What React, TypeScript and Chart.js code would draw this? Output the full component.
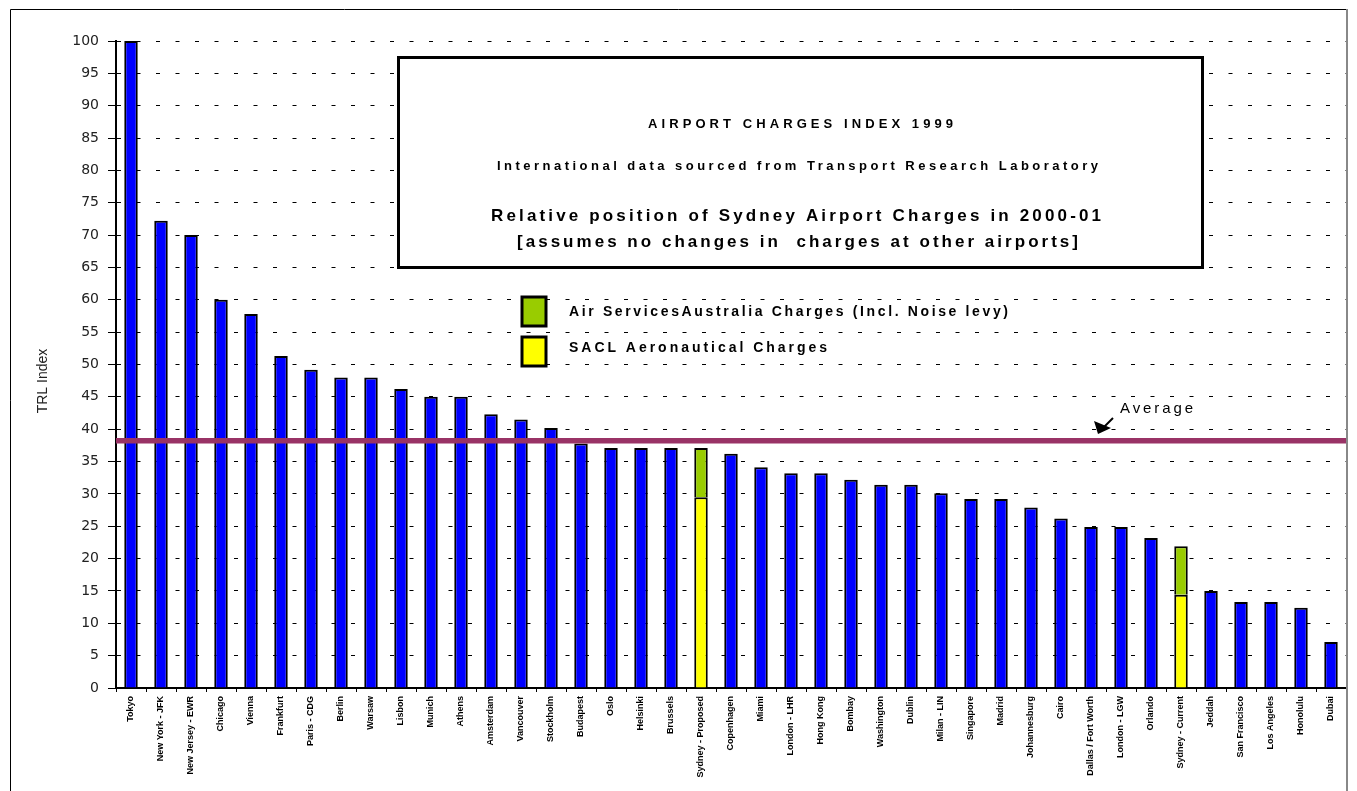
import { useEffect, useRef } from "react";
import { Chart, registerables } from "chart.js";

Chart.register(...registerables);

const cities = [
  "Tokyo", "New York - JFK", "New Jersey - EWR", "Chicago", "Vienna", "Frankfurt",
  "Paris - CDG", "Berlin", "Warsaw", "Lisbon", "Munich", "Athens", "Amsterdam",
  "Vancouver", "Stockholm", "Budapest", "Oslo", "Helsinki", "Brussels",
  "Sydney - Proposed", "Copenhagen", "Miami", "London - LHR", "Hong Kong", "Bombay",
  "Washington", "Dublin", "Milan - LIN", "Singapore", "Madrid", "Johannesburg", "Cairo",
  "Dallas / Fort Worth", "London - LGW", "Orlando", "Sydney - Current", "Jeddah",
  "San Francisco", "Los Angeles", "Honolulu", "Dubai",
];

const otherAirports = [
  100, 72.2, 70, 60, 57.8, 51.3, 49.2, 48, 48, 46.2, 45, 45, 42.3, 41.5, 40.2, 37.8,
  37.1, 37.1, 37.1, null, 36.2, 34.1, 33.2, 33.2, 32.2, 31.4, 31.4, 30.1, 29.2, 29.2,
  27.9, 26.2, 24.9, 24.9, 23.2, null, 15, 13.3, 13.3, 12.4, 7.1,
];

const saclCharges = [
  null, null, null, null, null, null, null, null, null, null, null, null, null, null,
  null, null, null, null, null, 29.5, null, null, null, null, null, null, null, null,
  null, null, null, null, null, null, null, 14.4, null, null, null, null, null,
];

const airServicesCharges = [
  null, null, null, null, null, null, null, null, null, null, null, null, null, null,
  null, null, null, null, null, 7.6, null, null, null, null, null, null, null, null,
  null, null, null, null, null, null, null, 7.5, null, null, null, null, null,
];

const averageIndex = 38.2;
const yMin = 0;
const yMax = 100;
const yStep = 5;

const titleLines = [
  "AIRPORT CHARGES INDEX 1999",
  "International data sourced from Transport Research Laboratory",
  "Relative position of Sydney Airport Charges in 2000-01",
  "[assumes no changes in  charges at other airports]",
];
const legendLabels = [
  "Air ServicesAustralia Charges (Incl. Noise levy)",
  "SACL Aeronautical Charges",
];
const yTitle = "TRL Index";
const averageLabel = "Average";

const FONT = "'Liberation Sans', Arial, sans-serif";

function fitText(
  ctx: CanvasRenderingContext2D,
  text: string,
  left: number,
  cy: number,
  font: string,
  width: number,
  color: string
) {
  ctx.save();
  ctx.font = font;
  (ctx as any).letterSpacing = "0px";
  const w = ctx.measureText(text).width;
  const ls = Math.max(0, (width - w) / Math.max(1, text.length - 1));
  (ctx as any).letterSpacing = ls + "px";
  ctx.fillStyle = color;
  ctx.textAlign = "left";
  ctx.textBaseline = "middle";
  ctx.fillText(text, left, cy);
  ctx.restore();
}

const overlayPlugin = {
  id: "overlay",
  beforeDraw(chart: any) {
    const ctx = chart.ctx;
    ctx.save();
    ctx.fillStyle = "#ffffff";
    ctx.fillRect(0, 0, chart.width, chart.height);
    ctx.restore();
  },
  afterDatasetsDraw(chart: any) {
    const ctx: CanvasRenderingContext2D = chart.ctx;
    const area = chart.chartArea;
    const y = chart.scales.y;

    // average line
    const ya = y.getPixelForValue(averageIndex);
    ctx.save();
    ctx.strokeStyle = "#993366";
    ctx.lineWidth = 5.5;
    ctx.beginPath();
    ctx.moveTo(area.left, ya);
    ctx.lineTo(area.right, ya);
    ctx.stroke();
    ctx.restore();

    // title box
    ctx.save();
    ctx.fillStyle = "#ffffff";
    ctx.fillRect(398, 57, 805, 211);
    ctx.strokeStyle = "#000000";
    ctx.lineWidth = 3;
    ctx.strokeRect(398.5, 57.5, 804, 210);
    ctx.restore();

    fitText(ctx, titleLines[0], 648, 124, `bold 13px ${FONT}`, 305, "#000");
    fitText(ctx, titleLines[1], 497, 166, `bold 13px ${FONT}`, 601, "#000");
    fitText(ctx, titleLines[2], 491, 216, `bold 17px ${FONT}`, 610, "#000");
    fitText(ctx, titleLines[3], 517, 242, `bold 17px ${FONT}`, 561, "#000");

    // legend
    ctx.save();
    ctx.lineWidth = 3;
    ctx.strokeStyle = "#000";
    ctx.fillStyle = "#99CC00";
    ctx.fillRect(522, 297, 24, 29);
    ctx.strokeRect(522, 297, 24, 29);
    ctx.fillStyle = "#FFFF00";
    ctx.fillRect(522, 337, 24, 29);
    ctx.strokeRect(522, 337, 24, 29);
    ctx.restore();
    fitText(ctx, legendLabels[0], 569, 312, `bold 14px ${FONT}`, 439, "#000");
    fitText(ctx, legendLabels[1], 569, 348, `bold 14px ${FONT}`, 258, "#000");

    // Average annotation
    fitText(ctx, averageLabel, 1120, 409, `15px ${FONT}`, 73, "#000");
    ctx.save();
    ctx.strokeStyle = "#000";
    ctx.fillStyle = "#000";
    ctx.lineWidth = 2;
    ctx.beginPath();
    ctx.moveTo(1113, 418);
    ctx.lineTo(1104, 427);
    ctx.stroke();
    ctx.beginPath();
    ctx.moveTo(1098, 434);
    ctx.lineTo(1094, 421);
    ctx.lineTo(1111, 428);
    ctx.closePath();
    ctx.fill();
    ctx.restore();

    // y title
    ctx.save();
    ctx.translate(43, 381);
    ctx.rotate(-Math.PI / 2);
    ctx.font = `14px ${FONT}`;
    ctx.fillStyle = "#222";
    ctx.textAlign = "center";
    ctx.textBaseline = "middle";
    ctx.fillText(yTitle, 0, 0);
    ctx.restore();
  },
  afterDraw(chart: any) {
    const ctx: CanvasRenderingContext2D = chart.ctx;
    ctx.save();
    ctx.strokeStyle = "#000";
    ctx.lineWidth = 1;
    ctx.beginPath();
    ctx.moveTo(10.5, chart.height + 5);
    ctx.lineTo(10.5, 9.5);
    ctx.lineTo(1347, 9.5);
    ctx.stroke();
    ctx.strokeStyle = "#888";
    ctx.lineWidth = 2;
    ctx.beginPath();
    ctx.moveTo(1347, 9);
    ctx.lineTo(1347, chart.height + 5);
    ctx.stroke();
    ctx.restore();
  },
};

export default function App() {
  const canvasRef = useRef<HTMLCanvasElement | null>(null);

  useEffect(() => {
    if (!canvasRef.current) return;
    const chart = new Chart(canvasRef.current, {
      type: "bar",
      data: {
        labels: cities,
        datasets: [
          {
            label: "Other airports",
            data: otherAirports as any,
            backgroundColor: "#0000FF",
            borderColor: "#000000",
            borderWidth: 2,
          },
          {
            label: legendLabels[1],
            data: saclCharges as any,
            backgroundColor: "#FFFF00",
            borderColor: "#000000",
            borderWidth: 2,
          },
          {
            label: legendLabels[0],
            data: airServicesCharges as any,
            backgroundColor: "#99CC00",
            borderColor: "#000000",
            borderWidth: 2,
          },
        ],
      },
      options: {
        responsive: false,
        animation: false,
        devicePixelRatio: 1,
        datasets: {
          bar: { barPercentage: 0.45, categoryPercentage: 1 },
        },
        layout: { padding: { left: 0, top: 41, right: 11, bottom: 0 } },
        plugins: {
          legend: { display: false },
          tooltip: { enabled: false },
          title: { display: false },
        },
        scales: {
          x: {
            stacked: true,
            afterFit: (s: any) => {
              s.height = 103;
            },
            grid: {
              display: true,
              drawOnChartArea: false,
              drawTicks: true,
              tickLength: 4,
              color: "#000",
              offset: true,
            },
            border: { display: true, color: "#000", width: 2 },
            ticks: {
              autoSkip: false,
              minRotation: 90,
              maxRotation: 90,
              padding: 4,
              color: "#000",
              font: { family: FONT, size: 9, weight: "bold" },
            },
          },
          y: {
            stacked: true,
            min: yMin,
            max: yMax,
            afterFit: (s: any) => {
              s.width = 116;
            },
            grid: {
              display: true,
              drawOnChartArea: true,
              drawTicks: true,
              tickLength: 8,
              color: "#000",
              lineWidth: 1,
              tickColor: "#000",
              tickBorderDash: [],
            },
            border: { display: true, color: "#000", width: 2, dash: [4, 15.5] },
            ticks: {
              stepSize: yStep,
              padding: 9,
              color: "#222",
              font: { family: "'DejaVu Sans', Verdana, sans-serif", size: 14 },
            },
          },
        },
      } as any,
      plugins: [overlayPlugin],
    });
    return () => chart.destroy();
  }, []);

  return (
    <div style={{ position: "fixed", left: 0, top: 0, width: 1357, height: 791 }}>
      <canvas ref={canvasRef} width={1357} height={791} />
    </div>
  );
}
